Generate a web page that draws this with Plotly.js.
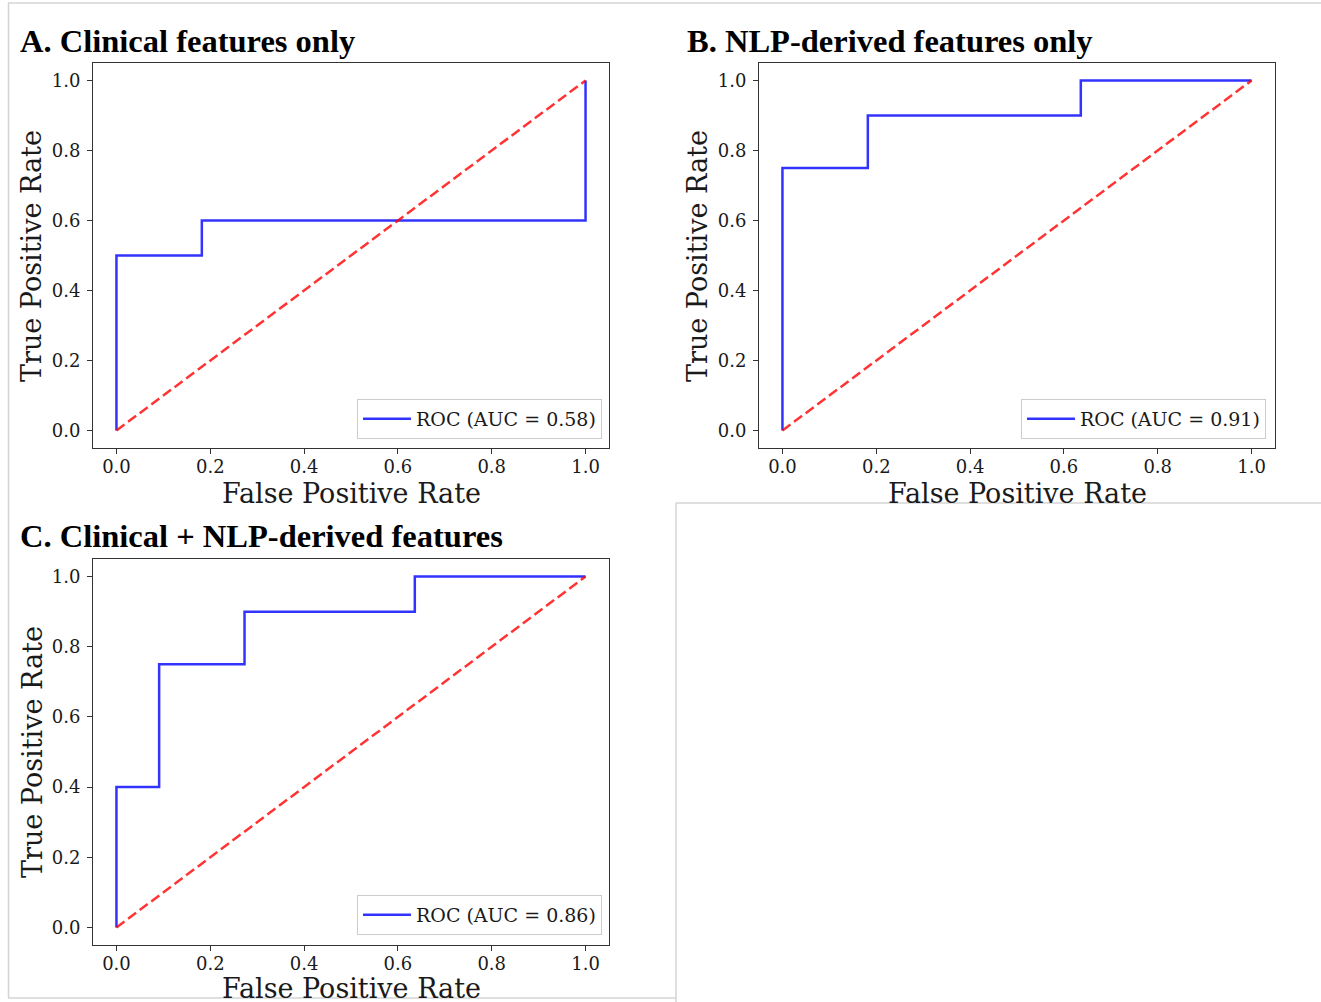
<!DOCTYPE html>
<html>
<head>
<meta charset="utf-8">
<script src="https://cdn.plot.ly/plotly-3.0.1.min.js"></script>
<style>
  html, body { margin: 0; padding: 0; background: #ffffff; }
  #chart { width: 1321px; height: 1002px; }
</style>
</head>
<body>
<div id="chart"></div>
<script>
// ---------------- data ----------------
const panelTitles = ["A. Clinical features only", "B. NLP-derived features only", "C. Clinical + NLP-derived features"];
const aucLabels = ["ROC (AUC = 0.58)", "ROC (AUC = 0.91)", "ROC (AUC = 0.86)"];

const fprA = [0, 0, 0.182, 0.182, 1, 1];
const tprA = [0, 0.5, 0.5, 0.6, 0.6, 1];

const fprB = [0, 0, 0.182, 0.182, 0.636, 0.636, 1];
const tprB = [0, 0.75, 0.75, 0.9, 0.9, 1, 1];

const fprC = [0, 0, 0.091, 0.091, 0.273, 0.273, 0.636, 0.636, 1];
const tprC = [0, 0.4, 0.4, 0.75, 0.75, 0.9, 0.9, 1, 1];

const chanceX = [0, 1];
const chanceY = [0, 1];

const tickVals = [0, 0.2, 0.4, 0.6, 0.8, 1.0];
const xLabel = "False Positive Rate";
const yLabel = "True Positive Rate";

// ---------------- layout helpers ----------------
const W = 1321, H = 1002;
const px = v => v / W;
const py = v => 1 - v / H;

const BLUE = "rgba(0,0,255,0.8)";
const RED = "rgba(255,0,0,0.8)";
const SERIF = "DejaVu Serif, serif";
const TITLEFONT = "Liberation Serif, Times New Roman, serif";
const TXT = "#1a1a1a";

const fprs = [fprA, fprB, fprC];
const tprs = [tprA, tprB, tprC];
const axSuffix = ["", "2", "3"];
const legendIds = ["legend", "legend2", "legend3"];

const traces = [];
for (let i = 0; i < 3; i++) {
  traces.push({
    x: fprs[i], y: tprs[i], type: "scatter", mode: "lines",
    xaxis: "x" + axSuffix[i], yaxis: "y" + axSuffix[i],
    line: { color: BLUE, width: 2.5, shape: "linear" },
    name: aucLabels[i], legend: legendIds[i], showlegend: true,
    hoverinfo: "skip"
  });
  traces.push({
    x: chanceX, y: chanceY, type: "scatter", mode: "lines",
    xaxis: "x" + axSuffix[i], yaxis: "y" + axSuffix[i],
    line: { color: RED, width: 2.5, dash: "10px,4.5px" },
    showlegend: false, hoverinfo: "skip"
  });
}

// pixel boxes of each axes frame: [left, right, top, bottom]
const boxes = [
  [93, 609, 63, 448],
  [759, 1275, 63, 448],
  [93, 609, 559, 945]
];

function axisCommon() {
  return {
    range: [-0.05, 1.05],
    tickvals: tickVals,
    tickformat: ".1f",
    ticks: "outside", ticklen: 5, tickwidth: 1, tickcolor: "#333333",
    showline: true, linecolor: "#333333", linewidth: 1, mirror: true,
    showgrid: false, zeroline: false,
    tickfont: { family: SERIF, size: 18, color: TXT },
    fixedrange: true
  };
}

const layout = {
  width: W, height: H,
  margin: { l: 0, r: 0, t: 0, b: 0, pad: 0 },
  paper_bgcolor: "#ffffff", plot_bgcolor: "#ffffff",
  showlegend: true,
  annotations: [],
  shapes: []
};

for (let i = 0; i < 3; i++) {
  const [l, r, t, b] = boxes[i];
  const xa = axisCommon();
  xa.domain = [px(l), px(r)];
  xa.anchor = "y" + axSuffix[i];
  xa.ticklabelstandoff = -3;
  const ya = axisCommon();
  ya.domain = [py(b), py(t)];
  ya.anchor = "x" + axSuffix[i];
  ya.ticklabelstandoff = 3;
  layout["xaxis" + axSuffix[i]] = xa;
  layout["yaxis" + axSuffix[i]] = ya;
}

// legends
const legendPos = [
  [602, 439],
  [1266, 439],
  [602, 935]
];
for (let i = 0; i < 3; i++) {
  layout[legendIds[i]] = {
    x: px(legendPos[i][0]), y: py(legendPos[i][1]),
    xanchor: "right", yanchor: "bottom",
    xref: "paper", yref: "paper",
    bgcolor: "rgba(255,255,255,0.8)",
    bordercolor: "#cccccc", borderwidth: 1,
    font: { family: SERIF, size: 19, color: TXT },
    itemwidth: 48
  };
}

// panel titles
const titlePos = [[18, 41], [685, 41], [18, 536]];
for (let i = 0; i < 3; i++) {
  layout.annotations.push({
    text: "<b>" + panelTitles[i] + "</b>",
    xref: "paper", yref: "paper",
    x: px(titlePos[i][0]), y: py(titlePos[i][1]),
    xanchor: "left", yanchor: "middle", showarrow: false,
    font: { family: TITLEFONT, size: 32.5, color: "#000000" }
  });
}

// axis titles
const xLabPos = [[351, 494], [1017, 494], [351, 988]];
const yLabPos = [[32, 256], [698, 256], [32, 752]];
for (let i = 0; i < 3; i++) {
  layout.annotations.push({
    text: xLabel, xref: "paper", yref: "paper",
    x: px(xLabPos[i][0]), y: py(xLabPos[i][1]),
    xanchor: "center", yanchor: "middle", showarrow: false,
    font: { family: SERIF, size: 27, color: TXT }
  });
  layout.annotations.push({
    text: yLabel, xref: "paper", yref: "paper",
    x: px(yLabPos[i][0]), y: py(yLabPos[i][1]),
    xanchor: "center", yanchor: "middle", showarrow: false, textangle: -90,
    font: { family: SERIF, size: 27, color: TXT }
  });
}

// light grey frame lines of the screenshot
const GREY = "#d4d4d4";
function hline(y, x0, x1) {
  layout.shapes.push({ type: "line", xref: "paper", yref: "paper",
    x0: px(x0), x1: px(x1), y0: py(y), y1: py(y), line: { color: GREY, width: 1.5 }, layer: "below" });
}
function vline(x, y0, y1) {
  layout.shapes.push({ type: "line", xref: "paper", yref: "paper",
    x0: px(x), x1: px(x), y0: py(y0), y1: py(y1), line: { color: GREY, width: 1.5 }, layer: "below" });
}
hline(3, 8, 1321);
vline(8.5, 3, 998);
hline(998, 8, 676);
vline(676, 503, 1002);
hline(503, 676, 1321);

Plotly.newPlot("chart", traces, layout, { displayModeBar: false, staticPlot: true });
</script>
</body>
</html>
